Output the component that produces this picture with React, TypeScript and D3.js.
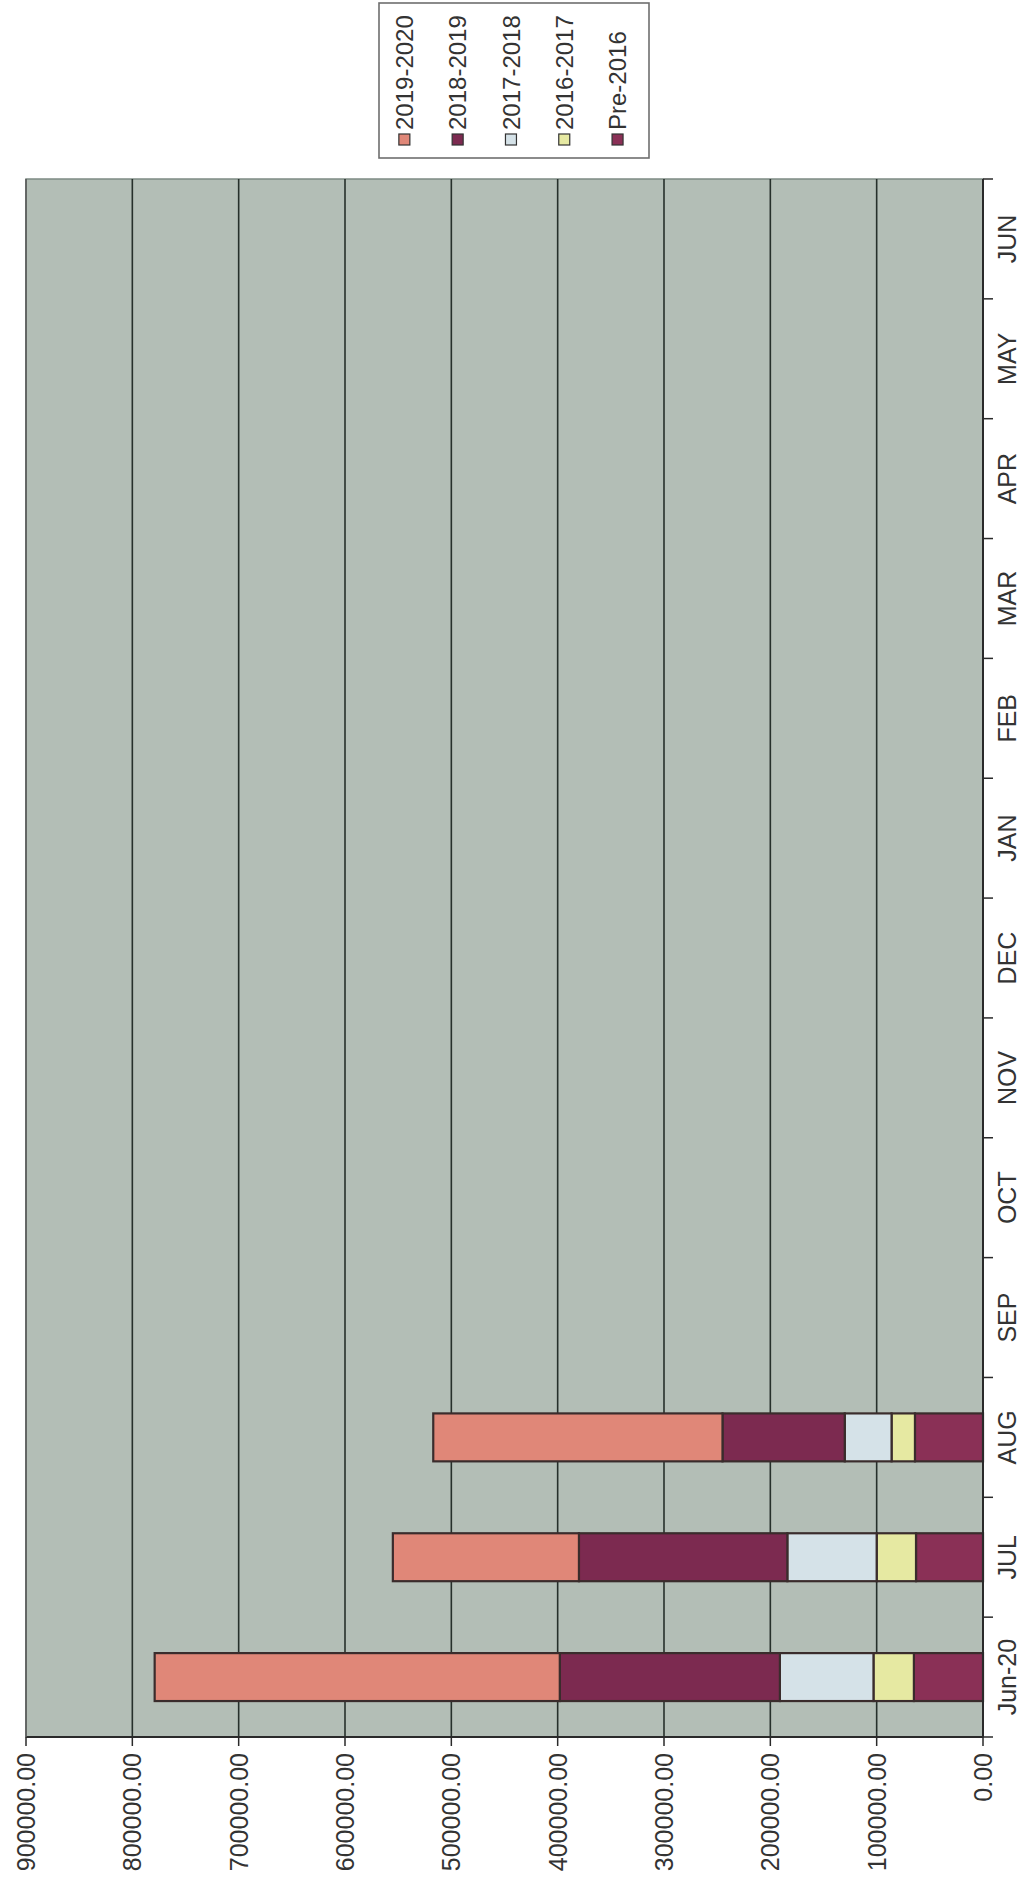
import React from "react";
import * as d3 from "d3";

const categories = ["Jun-20", "JUL", "AUG", "SEP", "OCT", "NOV", "DEC", "JAN", "FEB", "MAR", "APR", "MAY", "JUN"];
const pre2016 = [65000, 63000, 64000, 0, 0, 0, 0, 0, 0, 0, 0, 0, 0];
const s2016_2017 = [38000, 37000, 22000, 0, 0, 0, 0, 0, 0, 0, 0, 0, 0];
const s2017_2018 = [88000, 84000, 44000, 0, 0, 0, 0, 0, 0, 0, 0, 0, 0];
const s2018_2019 = [207000, 196000, 115000, 0, 0, 0, 0, 0, 0, 0, 0, 0, 0];
const s2019_2020 = [381000, 175000, 272000, 0, 0, 0, 0, 0, 0, 0, 0, 0, 0];
const seriesNames = ["Pre-2016", "2016-2017", "2017-2018", "2018-2019", "2019-2020"];
const seriesColors = ["#8A3056", "#E6E9A2", "#D5E2E8", "#7C2A50", "#E08778"];
const legendOrder = ["2019-2020", "2018-2019", "2017-2018", "2016-2017", "Pre-2016"];
const valueTicks = [0, 100000, 200000, 300000, 400000, 500000, 600000, 700000, 800000, 900000];

const W = 1029;
const H = 1889;
const plot = { left: 26, right: 983, top: 179, bottom: 1737 };
const FONT = "'Liberation Sans', Arial, sans-serif";

export default function App() {
  const seriesData = [pre2016, s2016_2017, s2017_2018, s2018_2019, s2019_2020];
  const table = categories.map((c, i) => {
    const row: any = { cat: c };
    seriesNames.forEach((n, k) => (row[n] = seriesData[k][i]));
    return row;
  });
  const stacked = d3.stack<any>().keys(seriesNames)(table);

  const x = d3.scaleLinear().domain([0, 900000]).range([plot.right, plot.left]);
  const y = d3
    .scaleBand<string>()
    .domain(categories)
    .range([plot.bottom, plot.top])
    .paddingInner(0.6)
    .paddingOuter(0.3);
  const step = (plot.bottom - plot.top) / categories.length;
  const fmt = d3.format(".2f");
  const textColor = "#333333";

  return (
    <svg width={W} height={H} style={{ position: "absolute", left: 0, top: 0, background: "#ffffff" }}>
      <rect
        x={plot.left}
        y={plot.top}
        width={plot.right - plot.left}
        height={plot.bottom - plot.top}
        fill="#B3BEB6"
        stroke="#7E8A84"
        strokeWidth={1.5}
      />
      {valueTicks
        .filter((t) => t > 0 && t < 900000)
        .map((t) => (
          <line key={"g" + t} x1={x(t)} x2={x(t)} y1={plot.top} y2={plot.bottom} stroke="#26302B" strokeWidth={1.6} />
        ))}
      {stacked.map((layer, k) =>
        layer.map((d, i) => {
          const v0 = d[0];
          const v1 = d[1];
          if (v1 - v0 <= 0) return null;
          return (
            <rect
              key={k + "-" + i}
              x={x(v1)}
              y={y(categories[i])}
              width={x(v0) - x(v1)}
              height={y.bandwidth()}
              fill={seriesColors[k]}
              stroke="#3A2C2C"
              strokeWidth={2.2}
            />
          );
        })
      )}
      <line x1={plot.left} x2={plot.right} y1={plot.bottom} y2={plot.bottom} stroke="#2A2A2A" strokeWidth={2} />
      <line x1={plot.right} x2={plot.right} y1={plot.top} y2={plot.bottom} stroke="#2A2A2A" strokeWidth={2} />
      <line x1={plot.left} x2={plot.left} y1={plot.top} y2={plot.bottom} stroke="#555" strokeWidth={1.5} />
      {valueTicks.map((t) => (
        <g key={"v" + t}>
          <line x1={x(t)} x2={x(t)} y1={plot.bottom} y2={plot.bottom + 9} stroke="#2A2A2A" strokeWidth={1.5} />
          <text
            transform={`translate(${x(t)},${plot.bottom + 16}) rotate(-90)`}
            textAnchor="end"
            dy="0.36em"
            fontFamily={FONT}
            fontSize={25}
            fill={textColor}
          >
            {fmt(t)}
          </text>
        </g>
      ))}
      {d3.range(categories.length + 1).map((k) => (
        <line
          key={"ct" + k}
          x1={plot.right}
          x2={plot.right + 10}
          y1={plot.top + k * step}
          y2={plot.top + k * step}
          stroke="#2A2A2A"
          strokeWidth={1.5}
        />
      ))}
      {categories.map((c) => (
        <text
          key={"cl" + c}
          transform={`translate(${1016},${(y(c) as number) + y.bandwidth() / 2}) rotate(-90)`}
          textAnchor="middle"
          fontFamily={FONT}
          fontSize={25}
          fill={textColor}
        >
          {c}
        </text>
      ))}
      <rect x={379} y={3} width={270} height={155} fill="#ffffff" stroke="#6E6E6E" strokeWidth={1.6} />
      {legendOrder.map((name, i) => {
        const k = seriesNames.indexOf(name);
        const bx = 413 + i * 53.3;
        const fs = 24;
        const cx = bx - fs * 0.36;
        return (
          <g key={"lg" + name}>
            <rect x={cx - 5.5} y={134} width={11} height={11} fill={seriesColors[k]} stroke="#333" strokeWidth={1.2} />
            <text
              transform={`translate(${bx},${130}) rotate(-90)`}
              textAnchor="start"
              fontFamily={FONT}
              fontSize={fs}
              fill={textColor}
            >
              {name}
            </text>
          </g>
        );
      })}
    </svg>
  );
}
